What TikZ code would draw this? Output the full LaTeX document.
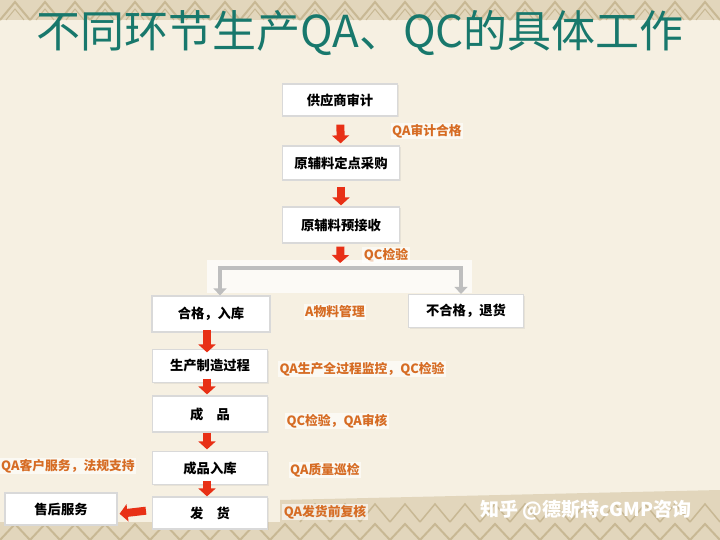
\documentclass[tikz,border=0pt]{standalone}
\usepackage{fontspec}
\newfontfamily\cjk{Noto Sans CJK SC}
\usetikzlibrary{arrows.meta,shadows}
\definecolor{bgcream}{RGB}{246,240,226}
\definecolor{bandtan}{RGB}{226,214,188}
\definecolor{bandline}{RGB}{200,184,148}
\definecolor{titleteal}{RGB}{24,120,108}
\definecolor{lblorange}{RGB}{214,108,36}
\definecolor{arrred}{RGB}{232,48,22}
\definecolor{brgray}{RGB}{190,190,190}
\tikzset{
  stepbox/.style={draw=gray!30, line width=1.2pt, fill=white, inner sep=0pt,
    font=\cjk\bfseries\fontsize{13.3}{15}\selectfont,
    drop shadow={opacity=0.12, shadow xshift=1.2pt, shadow yshift=-1.2pt}},
  lbl/.style={fill=white, fill opacity=0.6, text opacity=1, text=lblorange,
    inner sep=1.5pt, font=\cjk\bfseries\fontsize{12.8}{14}\selectfont},
  redarrow/.style={draw=arrred, line width=8pt, -{Triangle[width=17pt,length=8pt]}},
  grayarrow/.style={draw=brgray, line width=4.5pt, -{Triangle[width=13pt,length=7pt]}},
}
\begin{document}
\begin{tikzpicture}[x=1pt,y=-1pt]
\useasboundingbox (0,0) rectangle (720,540);
% background
\fill[bgcream] (0,0) rectangle (720,540);
\fill[bandtan] (0,0) rectangle (720,20);
\foreach \i in {0,...,24} {
  \draw[bandline, line width=2pt] (\i*30,20) -- (\i*30+15,2) -- (\i*30+30,20);
  \draw[bandline, line width=1pt] (\i*30+6,20) -- (\i*30+15,9) -- (\i*30+24,20);
}
\fill[bandtan] (0,522) -- (280,522) -- (280,500) -- (720,490) -- (720,540) -- (0,540) -- cycle;
\foreach \i in {0,...,24} {
  \draw[bandline, line width=2pt] (\i*30,540) -- (\i*30+15,524) -- (\i*30+30,540);
}
\foreach \i in {10,...,24} {
  \draw[bandline, line width=1.5pt] (\i*30,522) -- (\i*30+15,504) -- (\i*30+30,522);
}
% title
\node[text=titleteal, font=\cjk\fontsize{44}{48}\selectfont] (title) at (360,33) {不同环节生产QA、QC的具体工作};
% boxes
\node[stepbox, minimum width=115pt, minimum height=32pt] (b1) at (340,100) {供应商审计};
\node[stepbox, minimum width=117pt, minimum height=34pt] (b2) at (341,163) {原辅料定点采购};
\node[stepbox, minimum width=117pt, minimum height=36pt] (b3) at (341,225) {原辅料预接收};
\node[stepbox, minimum width=118pt, minimum height=36pt] (b4) at (211,314) {合格，入库};
\node[stepbox, minimum width=115pt, minimum height=33pt] (b5) at (466,311) {不合格，退货};
\node[stepbox, minimum width=115pt, minimum height=33pt] (b6) at (210,366) {生产制造过程};
\node[stepbox, minimum width=115pt, minimum height=36pt] (b7) at (210,414) {成\quad 品};
\node[stepbox, minimum width=115pt, minimum height=33pt] (b8) at (210,468) {成品入库};
\node[stepbox, minimum width=115pt, minimum height=32pt] (b9) at (210,513) {发\quad 货};
\node[stepbox, minimum width=112pt, minimum height=32pt] (b10) at (61,509) {售后服务};
% labels
\node[lbl] (l1) at (427,131) {QA审计合格};
\node[lbl] (l2) at (386,255) {QC检验};
\node[lbl] (l3) at (335,312) {A物料管理};
\node[lbl] (l4) at (362,369) {QA生产全过程监控，QC检验};
\node[lbl] (l5) at (337,421) {QC检验，QA审核};
\node[lbl] (l6) at (68,466) {QA客户服务，法规支持};
\node[lbl] (l7) at (325,470) {QA质量巡检};
\node[lbl] (l8) at (325,512) {QA发货前复核};
% split bracket
\fill[white, opacity=0.7] (207,260) rectangle (472,293);
\coordinate (split) at (340,268);
\draw[grayarrow, line cap=rect] (split) -| ([xshift=9pt]b4.north) ;
\draw[grayarrow, line cap=rect] (split) -| ([xshift=-5pt]b5.north);
% red arrows
\draw[redarrow, shorten <=8pt, shorten >=2pt] (b1) -- (b2);
\draw[redarrow, shorten <=6pt, shorten >=1pt] (b2) -- (b3);
\draw[redarrow, shorten <=3pt, shorten >=5pt] (b3) -- (split);
\draw[redarrow, shorten <=-3pt, shorten >=-3.5pt] ([xshift=-4pt]b4.south) -- ([xshift=-3pt]b6.north);
\draw[redarrow, shorten <=-4.5pt, shorten >=1pt] ([xshift=-3pt]b6.south) -- ([xshift=-3pt]b7.north);
\draw[redarrow, shorten <=0pt, shorten >=1.5pt] ([xshift=-3pt]b7.south) -- ([xshift=-3pt]b8.north);
\draw[redarrow, shorten <=-4.5pt, shorten >=0pt] ([xshift=-3pt]b8.south) -- ([xshift=-3pt]b9.north);
\draw[redarrow, shorten <=6pt, shorten >=2pt] ([yshift=3pt]b9.west) -- ([yshift=-1pt]b10.east|-b9.west);
% watermark
\node[text=white, font=\cjk\bfseries\fontsize{19}{22}\selectfont] (wm) at (586,510) {知乎 @德斯特cGMP咨询};
\end{tikzpicture}
\end{document}
